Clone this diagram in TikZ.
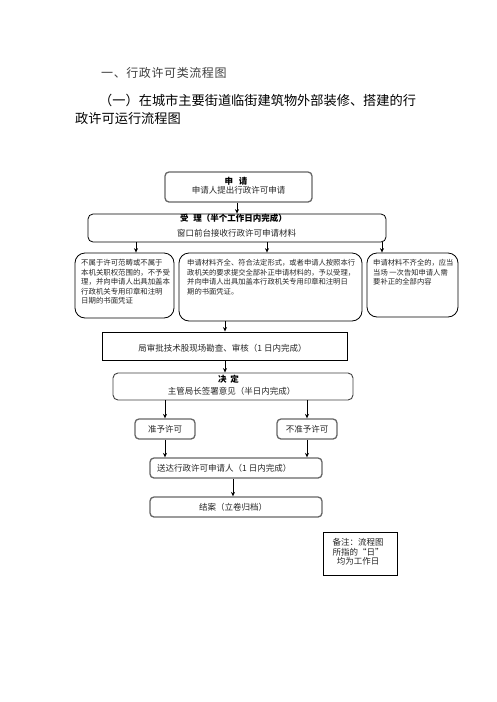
\documentclass[tikz,border=0pt]{standalone}
\usepackage{fontspec}
\setmainfont{Noto Sans CJK SC}
\usetikzlibrary{arrows.meta}
\tikzset{
  gbox/.style={draw=black!60, line width=1.3pt, rounded corners=4pt, inner sep=0pt},
  dbox/.style={draw=black!75, line width=0.9pt, rounded corners=5pt, inner sep=0pt},
  kbox/.style={draw=black, line width=0.8pt, rounded corners=5pt, inner sep=0pt},
  bigbox/.style={draw=black, line width=0.8pt, rounded corners=10pt, inner sep=0pt},
  sqbox/.style={draw=black, line width=0.9pt, inner sep=0pt},
  arr/.style={-{Stealth[length=4.5pt,width=4pt]}, line width=0.8pt},
  txt/.style={inner sep=0pt, font=\fontsize{8.5}{10}\selectfont, text=black!85},
  txtb/.style={inner sep=0pt, font=\bfseries\fontsize{8.5}{10}\selectfont, text=black},
  small/.style={inner sep=0pt, align=left, anchor=north west, font=\fontsize{7.3}{9.6}\selectfont, text=black!85},
}
\begin{document}
\begin{tikzpicture}[x=1pt,y=-1pt]
\useasboundingbox (0,0) rectangle (496,702);
\fill[white] (0,0) rectangle (496,702);

% titles
\node[inner sep=0pt, anchor=west, text=black!75, font=\fontsize{12}{14}\selectfont\addfontfeatures{LetterSpace=5}] (title1) at (101,73) {一、行政许可类流程图};
\node[inner sep=0pt, anchor=west, font=\fontsize{13.2}{15}\selectfont] (title2) at (99,100) {（一）在城市主要街道临街建筑物外部装修、搭建的行};
\node[inner sep=0pt, anchor=west, font=\fontsize{13.2}{15}\selectfont] (title3) at (75,118) {政许可运行流程图};

% boxes
\node[gbox, minimum width=147pt, minimum height=30pt] (shenqing) at (238.5,187) {};
\node[kbox, minimum width=298pt, minimum height=28pt] (shouli) at (237,228) {};
\node[bigbox, minimum width=99pt, minimum height=65pt] (left) at (124.5,285.5) {};
\node[bigbox, minimum width=183pt, minimum height=68pt] (mid) at (270.5,287) {};
\node[bigbox, minimum width=91pt, minimum height=64pt] (right) at (412.5,285) {};
\node[sqbox, minimum width=245pt, minimum height=28pt] (shenhe) at (224.5,346) {};
\node[dbox, minimum width=240pt, minimum height=27pt] (jueding) at (233,386.5) {};
\node[gbox, minimum width=60pt, minimum height=20pt] (zhunyu) at (165,429) {};
\node[gbox, minimum width=60pt, minimum height=20pt] (buzhunyu) at (307,429) {};
\node[gbox, minimum width=172pt, minimum height=20pt] (songda) at (236,468) {};
\node[gbox, minimum width=172pt, minimum height=20pt] (jiean) at (236,507) {};
\node[sqbox, minimum width=74pt, minimum height=43pt] (beizhu) at (360,553.5) {};

% texts
\node[txtb] (t1a) at (236,181) {申\hspace{6pt}请};
\node[txt] (t1b) at (238.5,190.5) {申请人提出行政许可申请};
\node[txtb] (t2a) at (233.5,218) {受\hspace{5pt}理（半个工作日内完成）};
\node[txt] (t2b) at (236.5,233) {窗口前台接收行政许可申请材料};
\node[small, font=\fontsize{7.4}{9.6}\selectfont] (t3) at (81,259) {不属于许可范畴或不属于\\本机关职权范围的，不予受\\理，并向申请人出具加盖本\\行政机关专用印章和注明\\日期的书面凭证};
\node[small] (t4) at (187,259) {申请材料齐全、符合法定形式，或者申请人按照本行\\政机关的要求提交全部补正申请材料的，予以受理，\\并向申请人出具加盖本行政机关专用印章和注明日\\期的书面凭证。};
\node[small] (t5) at (373,259) {申请材料不齐全的，应当\\当场 一次告知申请人需\\要补正的全部内容};
\node[txt] (t6) at (222.5,348) {局审批技术股现场勘查、审核（1 日内完成）};
\node[txtb] (t7a) at (228.5,379) {决\hspace{4pt}定};
\node[txt] (t7b) at (231.5,391) {主管局长签署意见（半日内完成）};
\node[txt] (t8) at (165,429) {准予许可};
\node[txt] (t9) at (307,429) {不准予许可};
\node[txt, anchor=west] (t10) at (157,468) {送达行政许可申请人（1 日内完成）};
\node[txt] (t11) at (233,507) {结案（立卷归档）};
\node[txt, align=center, font=\fontsize{8.5}{9.7}\selectfont] (t12) at (358,552) {备注：流程图\\所指的“日”\\均为工作日};

% connector x positions
\coordinate (xa) at (237,0);
\coordinate (xb) at (136,0);
\coordinate (xc) at (267,0);
\coordinate (xd) at (382,0);
\coordinate (xe) at (225,0);
\coordinate (xf) at (165,0);
\coordinate (xg) at (307,0);
\coordinate (xh) at (233,0);

\draw[arr] (shenqing.south -| xa) -- (shouli.north -| xa);
\draw[arr] (shouli.south -| xb) -- (left.north -| xb);
\draw[arr] (shouli.south -| xc) -- (mid.north -| xc);
\draw[arr] (shouli.south -| xd) -- (right.north -| xd);
\draw[arr] (mid.south -| xe) -- (shenhe.north -| xe);
\draw[arr] (shenhe.south -| xe) -- (jueding.north -| xe);
\draw[arr] (jueding.south -| xf) -- (zhunyu.north -| xf);
\draw[arr] (jueding.south -| xg) -- (buzhunyu.north -| xg);
\draw[arr] (zhunyu.south -| xf) -- (songda.north -| xf);
\draw[arr] (buzhunyu.south -| xg) -- (songda.north -| xg);
\draw[arr] (songda.south -| xh) -- (jiean.north -| xh);
\end{tikzpicture}
\end{document}
